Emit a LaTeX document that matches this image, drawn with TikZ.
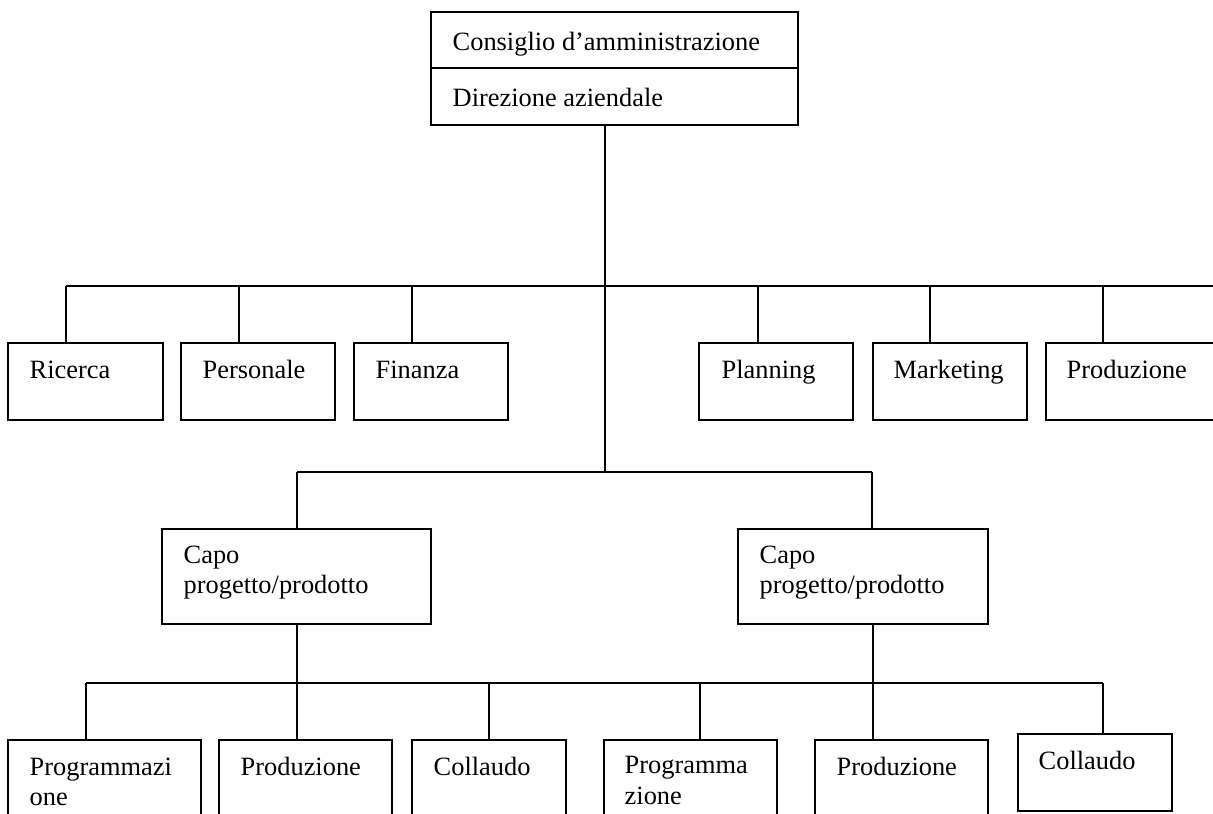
\documentclass[tikz,border=0pt]{standalone}
\usepackage{fontspec}
\setmainfont{Liberation Serif}
\begin{document}
\begin{tikzpicture}[x=1pt,y=-1pt,line width=1.4pt,
  box/.style={draw,line width=1.4pt,inner sep=0pt,outer sep=0pt,anchor=north west},
  lbl/.style={font=\fontsize{26.4}{30}\selectfont,inner sep=0pt,anchor=base west,align=left}]
\useasboundingbox (0,0) rectangle (1213,814);
\clip (0,0) rectangle (1213,814);
% top
\node[box,minimum width=367pt,minimum height=56pt] (top1) at (431,12) {};
\node[box,minimum width=367pt,minimum height=57pt] (top2) at (431,68) {};
\node[lbl] (t1) at (452,50) {Consiglio d’amministrazione};
\node[lbl] (t2) at (452,106) {Direzione aziendale};
% row 1
\node[box,minimum width=155pt,minimum height=77pt] (ric) at (8,343) {};
\node[box,minimum width=154pt,minimum height=77pt] (per) at (181,343) {};
\node[box,minimum width=154pt,minimum height=77pt] (fin) at (354,343) {};
\node[box,minimum width=154pt,minimum height=77pt] (pla) at (699,343) {};
\node[box,minimum width=154pt,minimum height=77pt] (mar) at (873,343) {};
\node[box,minimum width=184pt,minimum height=77pt] (pro) at (1046,343) {};
\node[lbl] (lric) at (29,378) {Ricerca};
\node[lbl] (lper) at (202,378) {Personale};
\node[lbl] (lfin) at (375,378) {Finanza};
\node[lbl] (lpla) at (721,378) {Planning};
\node[lbl] (lmar) at (893,378) {Marketing};
\node[lbl] (lpro) at (1066,378) {Produzione};
% capo
\node[box,minimum width=269pt,minimum height=95pt] (capL) at (162,529) {};
\node[box,minimum width=250pt,minimum height=95pt] (capR) at (738,529) {};
\node[lbl] (lcapL1) at (183,563) {Capo};
\node[lbl] (lcapL2) at (183,593) {progetto/prodotto};
\node[lbl] (lcapR1) at (759,563) {Capo};
\node[lbl] (lcapR2) at (759,593) {progetto/prodotto};
% bottom
\node[box,minimum width=193pt,minimum height=90pt] (prg1) at (8,740) {};
\node[box,minimum width=173pt,minimum height=90pt] (prd1) at (219,740) {};
\node[box,minimum width=154pt,minimum height=90pt] (col1) at (412,740) {};
\node[box,minimum width=173pt,minimum height=90pt] (prg2) at (604,740) {};
\node[box,minimum width=173pt,minimum height=90pt] (prd2) at (815,740) {};
\node[box,minimum width=154pt,minimum height=77pt] (col2) at (1018,734) {};
\node[lbl] (lprg1a) at (29,775) {Programmazi};
\node[lbl] (lprg1b) at (29,805) {one};
\node[lbl] (lprd1) at (240,775) {Produzione};
\node[lbl] (lcol1) at (433,775) {Collaudo};
\node[lbl] (lprg2a) at (624,773) {Programma};
\node[lbl] (lprg2b) at (624,804) {zione};
\node[lbl] (lprd2) at (836,775) {Produzione};
\node[lbl] (lcol2) at (1038,769) {Collaudo};
% connectors: trunk
\coordinate (j0) at (605,286);
\coordinate (j1) at (605,472);
\draw (j0 |- top2.south) -- (j1);
% bus 1
\coordinate (b1L) at (66,286);
\coordinate (b1R) at (1213,286);
\draw (b1L) -- (b1R);
\coordinate (d1) at (66,286);
\coordinate (d2) at (239,286);
\coordinate (d3) at (412,286);
\coordinate (d4) at (758,286);
\coordinate (d5) at (930,286);
\coordinate (d6) at (1103,286);
\draw (d1) -- (d1 |- ric.north);
\draw (d2) -- (d2 |- per.north);
\draw (d3) -- (d3 |- fin.north);
\draw (d4) -- (d4 |- pla.north);
\draw (d5) -- (d5 |- mar.north);
\draw (d6) -- (d6 |- pro.north);
% bus 2
\coordinate (e1) at (297,472);
\coordinate (e2) at (872,472);
\draw (e1) -- (e2);
\draw (e1) -- (e1 |- capL.north);
\draw (e2) -- (e2 |- capR.north);
% bus 3
\coordinate (f1) at (86,683);
\coordinate (f2) at (297,683);
\coordinate (f3) at (489,683);
\coordinate (f4) at (700,683);
\coordinate (f5) at (873,683);
\coordinate (f6) at (1103,683);
\draw (f1) -- (f6);
\draw (f2 |- capL.south) -- (f2 |- prd1.north);
\draw (f5 |- capR.south) -- (f5 |- prd2.north);
\draw (f1) -- (f1 |- prg1.north);
\draw (f3) -- (f3 |- col1.north);
\draw (f4) -- (f4 |- prg2.north);
\draw (f6) -- (f6 |- col2.north);
\end{tikzpicture}
\end{document}
